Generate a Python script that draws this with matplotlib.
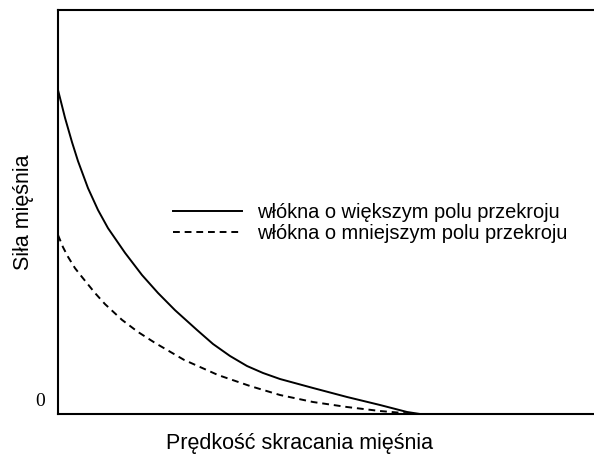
import matplotlib.pyplot as plt
from matplotlib.transforms import ScaledTranslation

# contraction velocity (arbitrary units 0-100) and muscle force (0-100)
x_big = [0, 1.31, 2.61, 3.73, 5.60, 7.46, 9.33, 12.50, 15.67, 18.66, 21.83, 25.93, 28.92,
         32.09, 35.26, 38.25, 41.42, 47.57, 53.92, 60.07, 65.11, 67.54, 76.87]
y_big = [80.2, 73.3, 67.3, 62.6, 55.9, 50.5, 46.0, 39.9, 34.4, 29.95, 25.7, 20.8, 17.33,
         14.36, 11.88, 10.15, 8.66, 6.44, 4.21, 2.23, 0.50, 0, 0]

x_small = [0, 0.93, 1.87, 3.17, 4.48, 6.90, 8.77, 11.94, 14.93, 18.10, 23.51, 29.85,
           35.82, 41.42, 47.57, 53.92, 60.07, 66.6]
y_small = [44.3, 41.3, 38.9, 36.1, 33.9, 29.95, 27.2, 23.3, 20.3, 17.6, 13.4, 9.65,
           6.93, 4.70, 2.97, 1.73, 0.74, 0]

labels = ['włókna o większym polu przekroju', 'włókna o mniejszym polu przekroju']

plt.rcParams['font.family'] = 'Liberation Sans'

fig = plt.figure(figsize=(5.94, 4.57), dpi=100)
ax = fig.add_axes([58/594, 43/457, 536/594, 404/457])

ax.plot(x_big, y_big, color='black', lw=1.4, label=labels[0])
ax.plot(x_small, y_small, color='black', lw=1.4, linestyle=(0, (3.5, 2.5)), label=labels[1])

ax.set_xlim(0, 100)
ax.set_ylim(0, 100)
ax.spines['right'].set_visible(False)
for s in ['left', 'bottom', 'top']:
    ax.spines[s].set_linewidth(1.5)

ax.set_xticks([])
ax.set_yticks([0], ['0'])
ax.tick_params(axis='y', length=0, pad=9, labelsize=14)
for lbl in ax.get_yticklabels():
    lbl.set_fontfamily('Liberation Serif')
    lbl.set_transform(lbl.get_transform() + ScaledTranslation(0, 14/100, fig.dpi_scale_trans))

ax.set_xlabel('Prędkość skracania mięśnia', fontsize=15.5, va='center')
ax.xaxis.set_label_coords((300-58)/536, -29/404)
ax.set_ylabel('Siła mięśnia', fontsize=15.5, va='center')
ax.yaxis.set_label_coords(-(58-23)/536, 0.5)

leg = ax.legend(loc='center left', bbox_to_anchor=((173-58)/536, (414-223)/404),
                frameon=False, fontsize=14.4, handlelength=3.45, handletextpad=0.75,
                labelspacing=0.06, borderpad=0, borderaxespad=0)

plt.savefig('out.png', dpi=100)
